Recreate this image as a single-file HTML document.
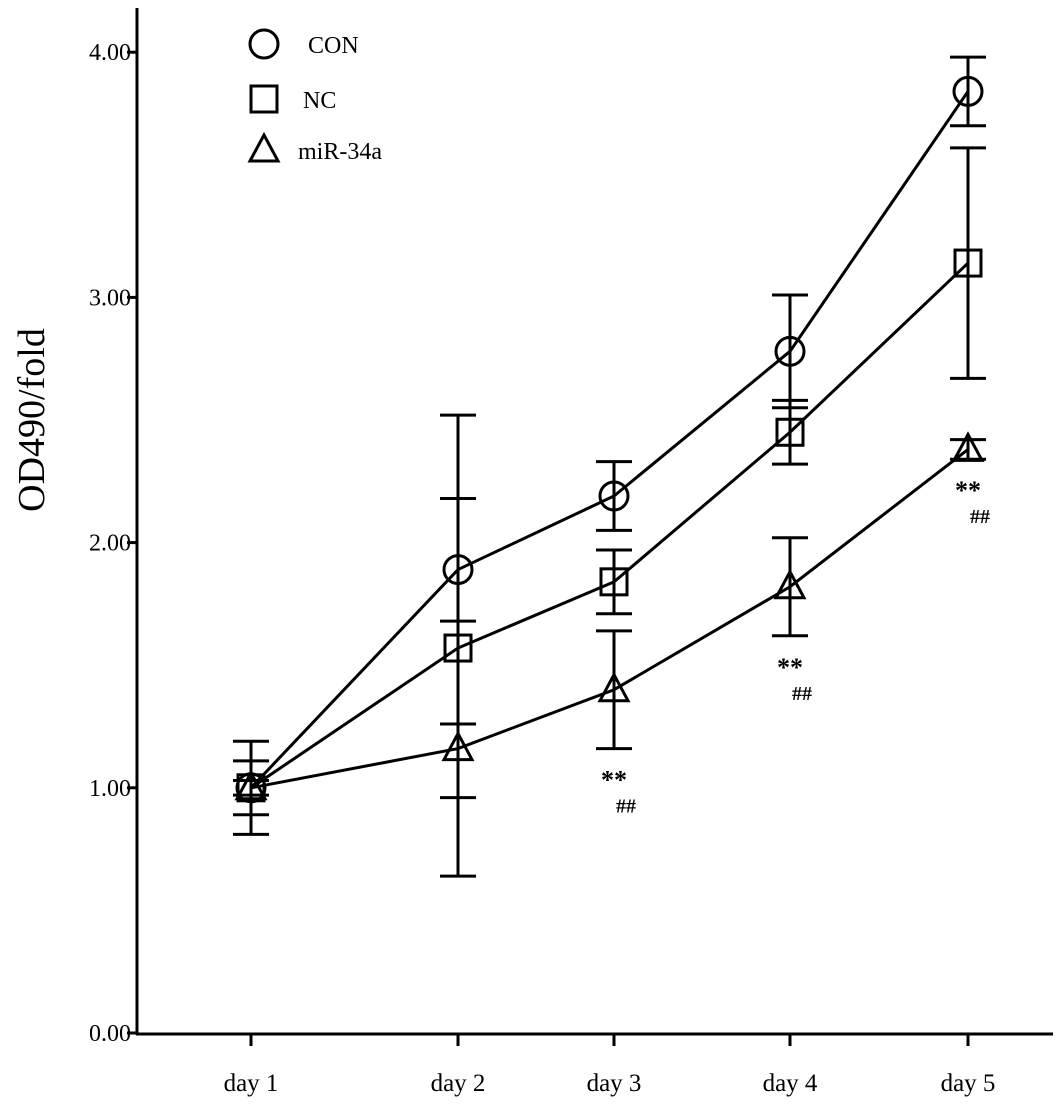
<!DOCTYPE html>
<html><head><meta charset="utf-8"><style>
html,body{margin:0;padding:0;background:#fff;}
svg{display:block;font-family:"Liberation Serif",serif;}
</style></head><body>
<svg id="chart" width="1063" height="1112"></svg>
<script>
const categories=["day 1","day 2","day 3","day 4","day 5"];
const conVals=[1.00,1.89,2.19,2.78,3.84];
const conErr=[0.19,0.63,0.14,0.23,0.14];
const ncVals=[1.00,1.57,1.84,2.45,3.14];
const ncErr=[0.11,0.61,0.13,0.13,0.47];
const mirVals=[1.00,1.16,1.40,1.82,2.38];
const mirErr=[0.03,0.52,0.24,0.20,0.04];
const yTicks=[0,1,2,3,4];
const yTickLabels=["0.00","1.00","2.00","3.00","4.00"];
const sigIdx=[2,3,4];

const NS="http://www.w3.org/2000/svg";
const svg=document.getElementById('chart');
function mk(t,a,p){const e=document.createElementNS(NS,t);for(const k in a)e.setAttribute(k,a[k]);(p||svg).appendChild(e);return e;}
const catPos=[251,458,614,790,968];
function x(i){return catPos[i];}
function y(v){return 1033-v*245.2;}

let e;
e=mk('line',{x1:137,y1:8,x2:137,y2:1035,stroke:'#000','stroke-width':3});


e=mk('line',{x1:136,y1:1034,x2:1053,y2:1034,stroke:'#000','stroke-width':3});


yTicks.forEach((v,i)=>{
  mk('line',{x1:127,y1:y(v),x2:137,y2:y(v),stroke:'#000','stroke-width':3});
  e=mk('text',{x:131,y:y(v)+8,'text-anchor':'end','font-size':24});
  e.textContent=yTickLabels[i];
  
  
});
categories.forEach((c,i)=>{
  mk('line',{x1:x(i),y1:1034,x2:x(i),y2:1046,stroke:'#000','stroke-width':3});
  e=mk('text',{x:x(i),y:1091,'text-anchor':'middle','font-size':25});
  e.textContent=c;
  
  
});
e=mk('text',{x:0,y:0,'text-anchor':'middle','font-size':38,transform:'translate(44,420) rotate(-90)'});
e.textContent='OD490/fold';



function marker(shape,cx,cy,g){
  const st={fill:'none',stroke:'#000','stroke-width':3};
  if(shape==='circle')return mk('circle',Object.assign({cx:cx,cy:cy,r:14},st),g);
  if(shape==='square')return mk('rect',Object.assign({x:cx-13,y:cy-13,width:26,height:26},st),g);
  return mk('polygon',Object.assign({points:`${cx},${cy-15} ${cx-14},${cy+11} ${cx+14},${cy+11}`},st),g);
}
const series=[
  {name:'con',vals:conVals,err:conErr,shape:'circle'},
  {name:'nc',vals:ncVals,err:ncErr,shape:'square'},
  {name:'mir-34a',vals:mirVals,err:mirErr,shape:'triangle'}];
series.forEach(s=>{
  const g=mk('g',{});
  
  
  e=mk('polyline',{points:s.vals.map((v,i)=>x(i)+','+y(v)).join(' '),fill:'none',stroke:'#000','stroke-width':3},g);
  
  
  s.vals.forEach((v,i)=>{
    const t=y(v+s.err[i]),b=y(v-s.err[i]);
    const eg=mk('g',{stroke:'#000','stroke-width':3},g);
    
    
    mk('line',{x1:x(i),y1:t,x2:x(i),y2:b},eg);
    mk('line',{x1:x(i)-18,y1:t,x2:x(i)+18,y2:t},eg);
    mk('line',{x1:x(i)-18,y1:b,x2:x(i)+18,y2:b},eg);
    e=marker(s.shape,x(i),y(v),g);
    
    
  });
});
sigIdx.forEach(i=>{
  const by=y(mirVals[i]-mirErr[i]);
  const yy=Math.max(by,y(mirVals[i]))+40;
  e=mk('text',{x:x(i),y:yy,'text-anchor':'middle','font-size':26,'font-weight':'bold'});
  e.textContent='**';
  
  
  e=mk('text',{x:x(i)+12,y:yy+24,'text-anchor':'middle','font-size':20,'font-weight':'bold'});
  e.textContent='##';
  
  
});
const leg=[['circle','CON',44],['square','NC',99],['triangle','miR-34a',150]];
leg.forEach(l=>{
  const g=mk('g',{});
  
  
  marker(l[0],264,l[2],g);
  e=mk('text',{x:l[0]==='circle'?308:l[0]==='square'?303:298,y:l[2]+9,'font-size':24},g);
  e.textContent=l[1];
});
</script>
</body></html>
